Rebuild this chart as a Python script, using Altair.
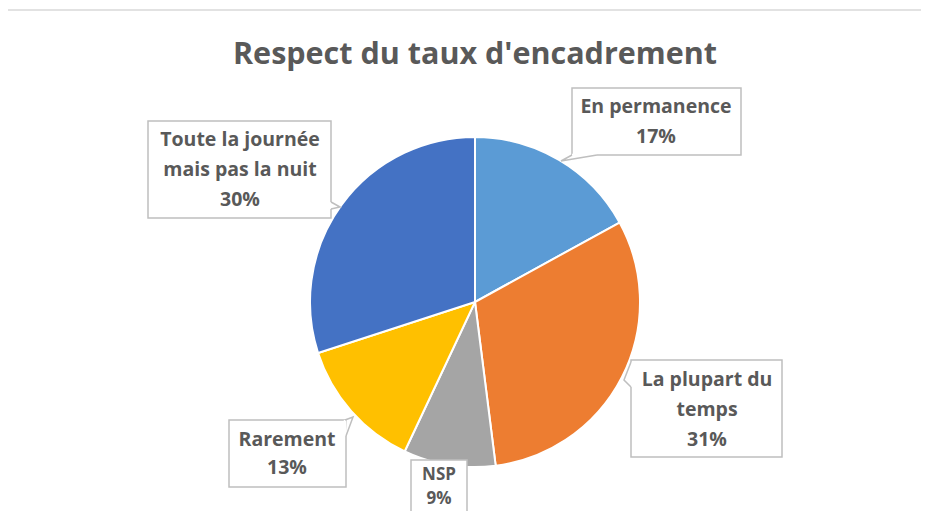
import altair as alt
import pandas as pd

# ---- data ----
categories = ["En permanence", "La plupart du temps", "NSP", "Rarement",
              "Toute la journée mais pas la nuit"]
values = [17, 31, 9, 13, 30]
colors = ["#5B9BD5", "#ED7D31", "#A5A5A5", "#FFC000", "#4472C4"]
label_lines = [["En permanence"], ["La plupart du", "temps"], ["NSP"],
               ["Rarement"], ["Toute la journée", "mais pas la nuit"]]
title_text = "Respect du taux d'encadrement"

# ---- layout (page pixel coordinates) ----
W, H = 913, 503
OFF = 8
CX, CY, R = 475, 302, 165
# callout boxes: x1, x2, y1, y2
boxes = {
    "En permanence": (572, 741, 88, 155),
    "La plupart du temps": (631, 782, 360, 457),
    "NSP": (411, 467, 460, 560),
    "Rarement": (229, 346, 420, 487),
    "Toute la journée mais pas la nuit": (148, 331, 121, 218),
}
# position of the first text line (centre)
text_first = {
    "En permanence": (656, 107),
    "La plupart du temps": (707, 380),
    "NSP": (439, 475),
    "Rarement": (287, 440),
    "Toute la journée mais pas la nuit": (240, 140),
}
line_h = {"En permanence": 30, "La plupart du temps": 30, "NSP": 24,
          "Rarement": 28, "Toute la journée mais pas la nuit": 30}
font_size = {"En permanence": 19.5, "La plupart du temps": 19.5, "NSP": 17,
             "Rarement": 19.5, "Toute la journée mais pas la nuit": 19.5}
# pointers: base1, tip, base2
pointers = {
    "En permanence": [(572, 155), (561, 161), (597, 155)],
    "La plupart du temps": [(631, 362), (624, 380), (631, 387)],
    "Rarement": [(345, 420), (353, 417), (346, 436)],
    "Toute la journée mais pas la nuit": [(331, 202), (340, 207), (331, 209)],
}

FONT = "Open Sans"
TXT = "#595959"

pie_df = pd.DataFrame({"cat": categories, "val": values,
                       "order": list(range(len(categories)))})

xs = alt.Scale(domain=[0, W], range=[0, W])
ys = alt.Scale(domain=[0, H], range=[0, H])

def X(f):
    return alt.X(f, type="quantitative", scale=xs, axis=None)

def Y(f):
    return alt.Y(f, type="quantitative", scale=ys, axis=None)

# outer frame
frame_df = pd.DataFrame({"x": [5 - OFF], "x2": [W + 20], "y": [10 - OFF], "y2": [H + 20]})
frame = alt.Chart(frame_df).mark_rect(fill="white", stroke="#D9D9D9", strokeWidth=1.5).encode(
    x=X("x"), x2="x2", y=Y("y"), y2="y2")

pie = alt.Chart(pie_df).mark_arc(radius=R, stroke="white", strokeWidth=2,
                                 x=CX - OFF, y=CY - OFF).encode(
    theta=alt.Theta("val:Q", stack=True),
    order=alt.Order("order:Q"),
    color=alt.Color("cat:N", scale=alt.Scale(domain=categories, range=colors), legend=None),
)

box_rows = []
for c in categories:
    x1, x2, y1, y2 = boxes[c]
    box_rows.append({"cat": c, "x": x1 - OFF, "x2": x2 - OFF, "y": y1 - OFF, "y2": y2 - OFF})
box_df = pd.DataFrame(box_rows)
box_layer = alt.Chart(box_df).mark_rect(fill="white", stroke="#BFBFBF", strokeWidth=1.5).encode(
    x=X("x"), x2="x2", y=Y("y"), y2="y2")

gap_rows, ptr_rows = [], []
for c, pts in pointers.items():
    (bx1, by1), (tx, ty), (bx2, by2) = pts
    gap_rows.append({"cat": c, "x": bx1 - OFF, "x2": bx2 - OFF, "y": by1 - OFF, "y2": by2 - OFF})
    for i, (px, py) in enumerate(pts):
        ptr_rows.append({"cat": c, "i": i, "x": px - OFF, "y": py - OFF})
gap_df = pd.DataFrame(gap_rows)
ptr_df = pd.DataFrame(ptr_rows)
gap_layer = alt.Chart(gap_df).mark_rule(color="white", strokeWidth=2.5).encode(
    x=X("x"), x2="x2", y=Y("y"), y2="y2")
ptr_layer = alt.Chart(ptr_df).mark_line(color="#BFBFBF", strokeWidth=1.5).encode(
    x=X("x"), y=Y("y"), detail="cat:N", order="i:Q")

text_rows = []
for c, v, lines in zip(categories, values, label_lines):
    tx, ty = text_first[c]
    for k, ln in enumerate(lines + [f"{v}%"]):
        text_rows.append({"cat": c, "label": ln, "x": tx - OFF,
                          "y": ty + k * line_h[c] - OFF, "fs": font_size[c]})
text_df = pd.DataFrame(text_rows)
text_layer = alt.Chart(text_df).mark_text(
    font=FONT, fontWeight="bold", color=TXT,
    align="center", baseline="middle").encode(
    x=X("x"), y=Y("y"), text="label:N",
    size=alt.Size("fs:Q", scale=None, legend=None))

title_df = pd.DataFrame({"t": [title_text], "x": [475 - OFF], "y": [55 - OFF]})
title_layer = alt.Chart(title_df).mark_text(
    font=FONT, fontSize=30.5, fontWeight="bold", color=TXT, align="center",
    baseline="middle").encode(x=X("x"), y=Y("y"), text="t:N")

chart = alt.layer(frame, title_layer, pie, box_layer, gap_layer, ptr_layer, text_layer).properties(
    width=W, height=H, padding=0, autosize=alt.AutoSizeParams(type="none"),
    background="white"
).configure_view(stroke=None)

chart.save("out.html", embed_options={"renderer": "svg", "actions": False})
